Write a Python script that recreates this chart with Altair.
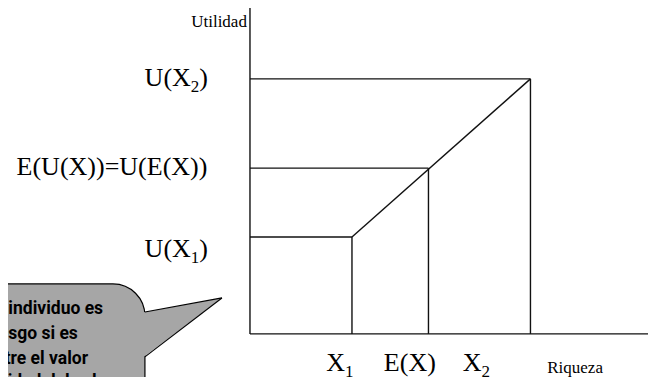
import altair as alt
import pandas as pd

# ---- economic values (wealth units / utility units) ----
X1, EX, X2 = 40, 70, 110          # wealth levels
U1, EU, U2 = 38, 65, 100          # utility levels
X_MIN, X_MAX = -94.9, 156.1       # visible wealth range
Y_MIN, Y_MAX = -16.9, 127.8       # visible utility range

# line segments of the diagram
seg_x  = [0,     0,     0,  X2, 0,  EX, 0,  X1, X1]
seg_y  = [0,     0,     U2, 0,  EU, 0,  U1, 0,  U1]
seg_x2 = [0,     X_MAX, X2, X2, EX, EX, X1, X1, X2]
seg_y2 = [Y_MAX, 0,     U2, U2, EU, EU, U1, U1, U2]

# callout bubble geometry (same units)
bub_left, bub_right, bub_top, bub_bottom = -110, -41.2, 19.6, -26
tail_x = [-41.6, -11.0]
tail_top = [8.5, 14.1]
tail_bot = [-9.0, 14.1]
tail_edge_x  = [-41.2, -11.0]
tail_edge_y  = [8.6, 14.1]
tail_edge_x2 = [-11.0, -41.2]
tail_edge_y2 = [14.1, -9.0]

bubble_lines = ["El individuo es", "neutral al riesgo si es",
                "indiferente entre el valor", "esperado y la utilidad del valor"]
bubble_x = [-57.6, -67.5, -63.5, -53.7]
bubble_y = [9.8, 0.0, -9.8, -19.0]

# big labels (main parts, right-aligned, alphabetic baseline)
main_text = ["U(X", "E(U(X))=U(E(X))", "U(X", "X", "X"]
main_x    = [-23.2, -16.7, -23.2, 37.3, 90.8]
main_y    = [97.3, 62.4, 30.2, -14.5, -14.5]
# subscripts (left-aligned)
sub_text = ["2", "1", "1", "2"]
sub_x    = [-23.2, -23.2, 37.3, 90.8]
sub_y    = [97.3, 30.2, -14.5, -14.5]
# closing parens (left-aligned)
par_text = [")", ")"]
par_x    = [-19.9, -19.9]
par_y    = [97.3, 30.2]
# centred label
ctr_text = ["E(X)"]
ctr_x    = [62.7]
ctr_y    = [-14.5]
# small axis titles
ylab_text, ylab_x, ylab_y = ["Utilidad"], [-1.2], [120.4]
xlab_text, xlab_x, xlab_y = ["Riqueza"], [127.5], [-15.5]

xs = alt.Scale(domain=[X_MIN, X_MAX], nice=False, zero=False)
ys = alt.Scale(domain=[Y_MIN, Y_MAX], nice=False, zero=False)
SERIF = "Liberation Serif"


def X(f="x"):
    return alt.X(f"{f}:Q", scale=xs, axis=None)


def Y(f="y"):
    return alt.Y(f"{f}:Q", scale=ys, axis=None)


def text_layer(t, x, y, baseline="alphabetic", **kw):
    return alt.Chart(pd.DataFrame({"t": t, "x": x, "y": y})).mark_text(
        baseline=baseline, color="#000000", **kw
    ).encode(x=X(), y=Y(), text="t:N")


bubble_rect = alt.Chart(pd.DataFrame({"x": [bub_left], "x2": [bub_right],
                                      "y": [bub_top], "y2": [bub_bottom]})).mark_rect(
    fill="#a6a6a6", stroke="#000000", strokeWidth=1.2, cornerRadiusTopRight=32, clip=False
).encode(x=X(), x2="x2:Q", y=Y(), y2="y2:Q")

tail = alt.Chart(pd.DataFrame({"x": tail_x, "y": tail_top, "y2": tail_bot})).mark_area(
    fill="#a6a6a6", strokeWidth=0, clip=False
).encode(x=X(), y=Y(), y2="y2:Q")

tail_edges = alt.Chart(pd.DataFrame({"x": tail_edge_x, "y": tail_edge_y,
                                     "x2": tail_edge_x2, "y2": tail_edge_y2})).mark_rule(
    color="#000000", strokeWidth=1.2
).encode(x=X(), y=Y(), x2="x2:Q", y2="y2:Q")

bubble_text = text_layer(bubble_lines, bubble_x, bubble_y, baseline="middle", font="Roboto",
                         fontWeight="bold", fontSize=17.5, align="right")

segments = alt.Chart(pd.DataFrame({"x": seg_x, "y": seg_y, "x2": seg_x2, "y2": seg_y2})).mark_rule(
    color="#111111", strokeWidth=1.4
).encode(x=X(), y=Y(), x2="x2:Q", y2="y2:Q")

main_lbl = text_layer(main_text, main_x, main_y, font=SERIF, fontSize=26, align="right")
sub_lbl = text_layer(sub_text, sub_x, sub_y, font=SERIF, fontSize=17, align="left", dy=6)
par_lbl = text_layer(par_text, par_x, par_y, font=SERIF, fontSize=26, align="left")
ctr_lbl = text_layer(ctr_text, ctr_x, ctr_y, font=SERIF, fontSize=26, align="center")
ylab = text_layer(ylab_text, ylab_x, ylab_y, font=SERIF, fontSize=17, align="right")
xlab = text_layer(xlab_text, xlab_x, xlab_y, font=SERIF, fontSize=17, align="center")

chart = alt.layer(
    bubble_rect, tail, tail_edges, bubble_text, segments,
    main_lbl, sub_lbl, par_lbl, ctr_lbl, ylab, xlab
).properties(
    width=640, height=369, padding=0, autosize="none", background="white"
).configure_view(stroke=None)

chart.save("out.html", embed_options={"renderer": "svg", "actions": False})
